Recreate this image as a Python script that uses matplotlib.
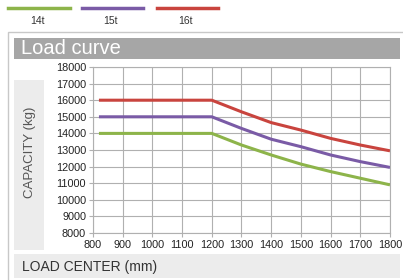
import matplotlib.pyplot as plt
from matplotlib.patches import Rectangle
from matplotlib.lines import Line2D

# Load center (mm) and capacity (kg)
load_center = [820, 1200, 1300, 1400, 1500, 1600, 1700, 1800]
cap_14t = [14000, 14000, 13300, 12700, 12150, 11700, 11300, 10900]
cap_15t = [15000, 15000, 14300, 13650, 13200, 12700, 12300, 11950]
cap_16t = [16000, 16000, 15300, 14650, 14200, 13700, 13300, 12950]
labels = ['14t', '15t', '16t']
colors = ['#8db44a', '#7a5ba6', '#c9443e']

W, H = 403, 280
fig = plt.figure(figsize=(W / 100, H / 100), dpi=100)
fig.patch.set_facecolor('white')


def fx(px):
    return px / W


def fy(py):
    return 1 - py / H


def box(x0, y0, x1, y1, **kw):
    fig.add_artist(Rectangle((fx(x0), fy(y1)), fx(x1) - fx(x0), fy(y0) - fy(y1),
                             transform=fig.transFigure, zorder=-5, **kw))


# outer frame and header/footer bars
box(8, 32, 410, 290, facecolor='white', edgecolor='#c8c8c8', linewidth=1)
box(14, 38, 400, 59, facecolor='#a6a6a6', edgecolor='none')
fig.text(fx(21), fy(48.5), 'Load curve', color='white', fontsize=14.5,
         va='center', ha='left', fontfamily='Liberation Sans')
box(14, 80, 44, 250, facecolor='#ececec', edgecolor='none')
box(14, 254, 400, 278, facecolor='#ececec', edgecolor='none')
fig.text(fx(22), fy(267), 'LOAD CENTER (mm)', color='#333333', fontsize=10,
         va='center', ha='left', fontfamily='Liberation Sans')
fig.text(fx(30), fy(152), 'CAPACITY (kg)', color='#555555', fontsize=9.5,
         va='center', ha='center', rotation=90, fontfamily='Liberation Sans')

# legend on top
leg_x = [(8, 70), (82, 143), (157, 218)]
for (a, b), lab, c in zip(leg_x, labels, colors):
    fig.add_artist(Line2D([fx(a), fx(b)], [fy(8), fy(8)], color=c, linewidth=2.5,
                          transform=fig.transFigure))
    fig.text(fx((a + b) / 2 - 2), fy(21), lab, color='#333333', fontsize=7.5,
             ha='center', va='center', fontfamily='Liberation Sans')

ax = fig.add_axes([fx(93), fy(233), fx(390) - fx(93), fy(67) - fy(233)])
ax.set_zorder(5)
for ys, c in zip([cap_14t, cap_15t, cap_16t], colors):
    ax.plot(load_center, ys, color=c, linewidth=2.2, solid_capstyle='butt')

ax.set_xlim(800, 1800)
ax.set_ylim(8000, 18000)
ax.set_xticks(range(800, 1801, 100))
ax.set_yticks(range(8000, 18001, 1000))
ax.grid(True, color='#b0b0b0', linewidth=0.8)
for s in ax.spines.values():
    s.set_color('#b0b0b0')
    s.set_linewidth(0.8)
ax.tick_params(labelsize=7.8, colors='#b0b0b0', labelcolor='#222222', length=3, pad=2)
for t in ax.get_xticklabels() + ax.get_yticklabels():
    t.set_fontfamily('Liberation Sans')

fig.savefig('out.png', dpi=100)
